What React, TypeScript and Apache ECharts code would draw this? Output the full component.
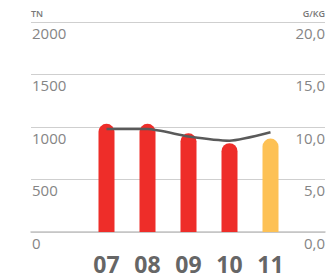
import React, { useEffect, useRef } from "react";
import * as echarts from "echarts";

const categories = ["07", "08", "09", "10", "11"];
const tonnes = [1030, 1030, 940, 845, 890];
const gPerKg = [9.8, 9.8, 9.1, 8.7, 9.5];
const leftTicks = [0, 500, 1000, 1500, 2000];
const rightTicks = [0, 5, 10, 15, 20];
const leftUnit = "TN";
const rightUnit = "G/KG";

const RED = "#ee2d29";
const YELLOW = "#fdc155";

export default function App() {
  const ref = useRef<HTMLDivElement>(null);
  useEffect(() => {
    if (!ref.current) return;
    const chart = echarts.init(ref.current, undefined, { renderer: "svg" });
    const labelStyle = {
      color: "#858585",
      fontSize: 15,
      fontFamily: "Open Sans",
    };
    chart.setOption({
      animation: false,
      grid: [
        { left: 31, right: 4, top: 22, bottom: 48 },
        { left: 86, right: 38, top: 22, bottom: 48 },
      ],
      graphic: [
        {
          type: "text",
          left: 31,
          top: 9,
          style: { text: leftUnit, fill: "#777", fontSize: 9, fontFamily: "Open Sans", fontWeight: 600 },
        },
        {
          type: "text",
          right: 4,
          top: 9,
          style: { text: rightUnit, fill: "#777", fontSize: 9, fontFamily: "Open Sans", fontWeight: 600 },
        },
      ],
      xAxis: [
        {
          type: "category",
          gridIndex: 0,
          data: categories,
          axisLine: { show: true, lineStyle: { color: "#c4c4c4", width: 1.5 } },
          axisTick: { show: false },
          axisLabel: { show: false },
        },
        {
          type: "category",
          gridIndex: 1,
          data: categories,
          axisLine: { show: false },
          axisTick: { show: false },
          axisLabel: {
            color: "#666",
            fontSize: 23,
            lineHeight: 23,
            fontWeight: "bold",
            fontFamily: "Open Sans",
            margin: 20,
          },
        },
      ],
      yAxis: [
        {
          type: "value",
          gridIndex: 0,
          position: "left",
          min: 0,
          max: 2000,
          interval: 500,
          axisLine: { show: false },
          axisTick: { show: false },
          splitLine: { lineStyle: { color: "#cfcfcf", width: 1 } },
          axisLabel: {
            ...labelStyle,
            inside: true,
            margin: 1,
            verticalAlign: "top",
            padding: [3, 0, 0, 0],
            formatter: (v: number) => String(leftTicks[leftTicks.indexOf(v)] ?? v),
          },
        },
        {
          type: "value",
          gridIndex: 0,
          position: "right",
          min: 0,
          max: 20,
          interval: 5,
          axisLine: { show: false },
          axisTick: { show: false },
          splitLine: { show: false },
          axisLabel: {
            ...labelStyle,
            inside: true,
            margin: 0,
            verticalAlign: "top",
            padding: [3, 0, 0, 0],
            formatter: (v: number) => (rightTicks.includes(v) ? v.toFixed(1).replace(".", ",") : ""),
          },
        },
        { type: "value", gridIndex: 1, min: 0, max: 2000, show: false },
        { type: "value", gridIndex: 1, min: 0, max: 20, show: false },
      ],
      series: [
        {
          type: "bar",
          xAxisIndex: 1,
          yAxisIndex: 2,
          data: tonnes.map((v, i) => ({
            value: v,
            itemStyle: { color: i === tonnes.length - 1 ? YELLOW : RED },
          })),
          barWidth: 16,
          itemStyle: { borderRadius: [8, 8, 0, 0] },
        },
        {
          type: "line",
          xAxisIndex: 1,
          yAxisIndex: 3,
          data: gPerKg,
          symbol: "none",
          smooth: 0.2,
          lineStyle: { color: "#5a5a5a", width: 2.5 },
        },
      ],
    });
    return () => chart.dispose();
  }, []);
  return <div ref={ref} style={{ width: 329, height: 280, position: "absolute", left: 0, top: 0 }} />;
}
